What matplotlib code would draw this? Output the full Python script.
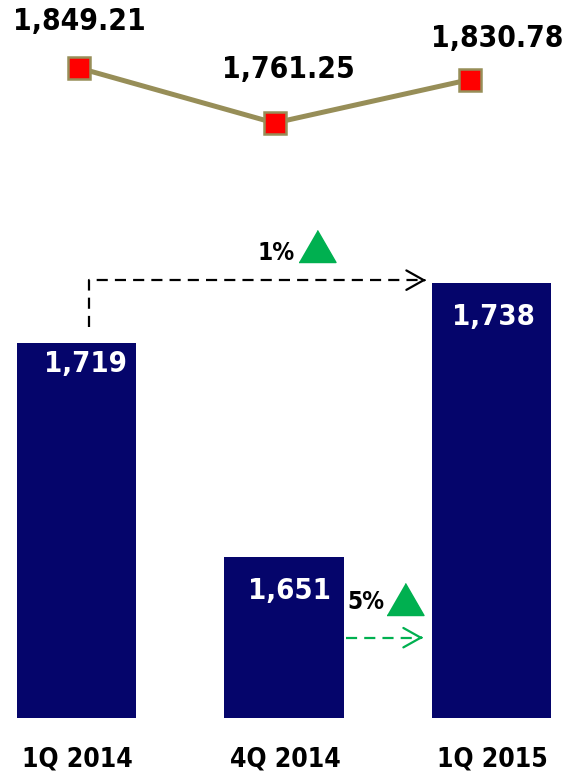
import matplotlib
matplotlib.use("Agg")
import matplotlib.pyplot as plt
import numpy as np

# dados
categorias = ["1Q 2014", "4Q 2014", "1Q 2015"]
barras = [1719, 1651, 1738]
rotulos_barras = ["1,719", "1,651", "1,738"]
linha = [1849.21, 1761.25, 1830.78]
rotulos_linha = ["1,849.21", "1,761.25", "1,830.78"]
variacoes = ["1%", "5%"]

azul = "#05056B"
oliva = "#978E58"
verde = "#00B050"
fonte = dict(family="DejaVu Sans", fontstretch="condensed", fontweight="bold")

PX = 0.72  # pontos por pixel (dpi 100)

fig = plt.figure(figsize=(5.66, 7.76), dpi=100)

# eixo das barras (base 1600 no pixel 718)
ax = fig.add_axes([0, 58 / 776, 1, 538 / 776])
x = np.arange(len(categorias))
ax.bar(x, barras, width=0.5735, color=azul, bottom=0)
ax.set_ylim(1600, 1600 + 538 / 3.15)
ax.set_xlim(-76.5 / 207.5, (566 - 76.5) / 207.5)
ax.axis("off")

dx_lab = [8.5, 5.5, 1.5]
dy_lab = [-21, -34, -34]
for i, (v, t) in enumerate(zip(barras, rotulos_barras)):
    ax.annotate(t, (x[i], v), xytext=(dx_lab[i] * PX, dy_lab[i] * PX),
                textcoords="offset points", ha="center", va="center",
                color="white", fontsize=21, **fonte)

for i, c in enumerate(categorias):
    ax.annotate(c, (x[i], 1600), xytext=(1 * PX, -42 * PX),
                textcoords="offset points", ha="center", va="center",
                color="black", fontsize=19, **fonte)

tracejado = (0, (5, 3.2))
ponta = "->, head_length=0.5, head_width=0.28"

# seta preta tracejada (1Q14 -> 1Q15)
x0 = x[0] + 12 / 207.5
y0 = barras[0] + 16 / 3.15
y1 = barras[2] + 1
x1 = x[2] - 0.5735 / 2 - 6 / 207.5
ax.plot([x0, x0, x1 - 0.01], [y0, y1, y1], color="black", lw=1.6, ls=tracejado)
ax.annotate("", xy=(x1, y1), xytext=(x1 - 0.01, y1),
            arrowprops=dict(arrowstyle=ponta, color="black", lw=1.6,
                            mutation_scale=25))
xm = (x0 + x1) / 2
ax.annotate(variacoes[0], (xm, y1), xytext=(19 * PX, 27 * PX),
            textcoords="offset points", ha="center", va="center",
            fontsize=17.5, **fonte)
tri = [(-0.5, -0.433), (0.5, -0.433), (0.0, 0.433)]
ax.plot([xm], [y1], marker=tri, ms=37 * PX, color=verde, ls="none",
        transform=ax.transData + matplotlib.transforms.ScaledTranslation(
            60 / 100, 34 / 100, fig.dpi_scale_trans))

# seta verde tracejada (4Q14 -> 1Q15)
g0 = x[1] + 0.5735 / 2 + 2 / 207.5
g1 = x[2] - 0.5735 / 2 - 9 / 207.5
gy = (1600 + barras[1]) / 2
ax.plot([g0, g1 - 0.01], [gy, gy], color=verde, lw=1.6, ls=tracejado)
ax.annotate("", xy=(g1, gy), xytext=(g1 - 0.01, gy),
            arrowprops=dict(arrowstyle=ponta, color=verde, lw=1.6,
                            mutation_scale=25))
gm = (g0 + g1) / 2
ax.annotate(variacoes[1], (gm, gy), xytext=(-18 * PX, 36 * PX),
            textcoords="offset points", ha="center", va="center",
            fontsize=17.5, **fonte)
ax.plot([gm], [gy], marker=tri, ms=37 * PX, color=verde, ls="none",
        transform=ax.transData + matplotlib.transforms.ScaledTranslation(
            21 / 100, 39 / 100, fig.dpi_scale_trans))

# eixo da linha
ax2 = fig.add_axes([0, 1 - 180 / 776, 1, 180 / 776])
xl = np.arange(len(linha))
ax2.plot(xl, linha, color=oliva, lw=3.6, marker="s", ms=16,
         markerfacecolor="red", markeredgecolor=oliva, markeredgewidth=1.8)
ax2.set_ylim(1670.0, 1958.0)
ax2.set_xlim(-79 / 195.5, (566 - 79) / 195.5)
ax2.axis("off")

dxl = [0.5, 14, 27]
dyl = [46, 53, 41]
for i, (v, t) in enumerate(zip(linha, rotulos_linha)):
    ax2.annotate(t, (xl[i], v), xytext=(dxl[i] * PX, dyl[i] * PX),
                 textcoords="offset points", ha="center", va="center",
                 fontsize=21.5, **fonte)

fig.savefig("out.png", dpi=100)
